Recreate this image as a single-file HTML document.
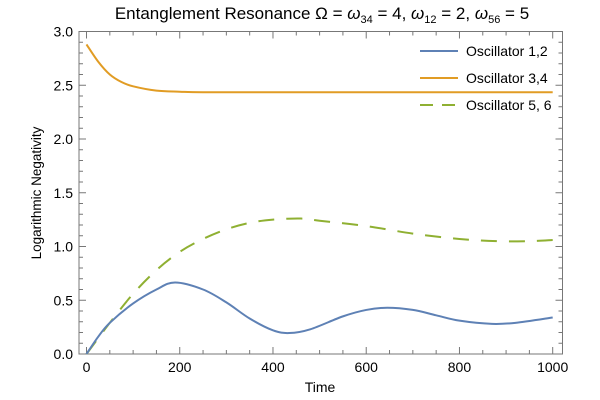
<!DOCTYPE html>
<html><head><meta charset="utf-8"><style>
body{margin:0;background:#fff;}
svg{display:block;font-family:"Liberation Sans",sans-serif;}
</style></head><body>
<svg id="chart" width="600" height="400" viewBox="0 0 600 400">
<text x="322" y="19" font-size="17" text-anchor="middle">Entanglement Resonance Ω = <tspan font-style="italic">ω</tspan><tspan font-size="11" dy="4">34</tspan><tspan dy="-4"> = 4, </tspan><tspan font-style="italic">ω</tspan><tspan font-size="11" dy="4">12</tspan><tspan dy="-4"> = 2, </tspan><tspan font-style="italic">ω</tspan><tspan font-size="11" dy="4">56</tspan><tspan dy="-4"> = 5</tspan></text>
<rect x="79" y="31.5" width="483.5" height="322.5" fill="none" stroke="#777" stroke-width="1"/>
<g id="ticks"></g>
<g id="series"></g>
<text x="320" y="392" font-size="14" text-anchor="middle">Time</text>
<text transform="translate(41,193) rotate(-90)" font-size="13.5" text-anchor="middle">Logarithmic Negativity</text>
<g>
<line x1="420" y1="51" x2="458" y2="51" stroke="#5e81b5" stroke-width="2"/>
<text x="466" y="56" font-size="14">Oscillator 1,2</text>
<line x1="420" y1="78" x2="458" y2="78" stroke="#e19c24" stroke-width="2"/>
<text x="466" y="83" font-size="14">Oscillator 3,4</text>
<line x1="420" y1="105" x2="458" y2="105" stroke="#8fb032" stroke-width="2" stroke-dasharray="13,9"/>
<text x="466" y="110" font-size="14">Oscillator 5, 6</text>
</g>
</svg>
<script>
const times1=[0,25,50,100,150,190,250,300,350,400,435,480,550,600,645,700,750,800,870,920,1000];
const osc12=[0,0.16,0.29,0.47,0.6,0.665,0.6,0.48,0.33,0.22,0.195,0.23,0.35,0.41,0.43,0.41,0.36,0.31,0.28,0.29,0.34];
const times2=[0,25,50,75,100,150,200,250,400,1000];
const osc34=[2.88,2.72,2.6,2.53,2.49,2.45,2.44,2.435,2.435,2.435];
const times3=[0,50,100,150,200,250,300,350,400,460,500,600,700,800,880,950,1000];
const osc56=[0,0.29,0.56,0.78,0.95,1.07,1.16,1.22,1.25,1.26,1.24,1.19,1.12,1.07,1.05,1.05,1.06];
const xTicks=[0,200,400,600,800,1000];
const yTicks=[0,0.5,1,1.5,2,2.5,3];
const X=t=>86.5+t*(552.7-86.5)/1000;
const Y=v=>354-v*(354-31.5)/3;
const NS='http://www.w3.org/2000/svg';
const tg=document.getElementById('ticks');
function mk(tag,attrs,parent){const e=document.createElementNS(NS,tag);for(const k in attrs)e.setAttribute(k,attrs[k]);parent.appendChild(e);return e;}
for(let t=0;t<=1000;t+=50){const maj=t%200===0;const l=mk('line',{x1:X(t),x2:X(t),y1:354,y2:354-(maj?7:4),stroke:'#777'},tg);


const l2=mk('line',{x1:X(t),x2:X(t),y1:31.5,y2:31.5+(maj?7:4),stroke:'#777'},tg);

}
xTicks.forEach(t=>{const e=mk('text',{x:X(t),y:372,'font-size':14,'text-anchor':'middle'},tg);e.textContent=t;

});
for(let v=0;v<=3.001;v+=0.1){const maj=Math.abs(v*2-Math.round(v*2))<1e-6;const l=mk('line',{x1:79,x2:79+(maj?7:4),y1:Y(v),y2:Y(v),stroke:'#777'},tg);


const l2=mk('line',{x1:562.5,x2:562.5-(maj?7:4),y1:Y(v),y2:Y(v),stroke:'#777'},tg);

}
yTicks.forEach(v=>{const e=mk('text',{x:73,y:Y(v)+5,'font-size':14,'text-anchor':'end'},tg);e.textContent=v.toFixed(1);

});
function pathD(ts,vs){const p=ts.map((t,i)=>[X(t),Y(vs[i])]);let d='M'+p[0][0]+','+p[0][1];
for(let i=0;i<p.length-1;i++){const p0=p[i-1]||p[i],p1=p[i],p2=p[i+1],p3=p[i+2]||p2;
d+=' C'+(p1[0]+(p2[0]-p0[0])/6)+','+(p1[1]+(p2[1]-p0[1])/6)+' '+(p2[0]-(p3[0]-p1[0])/6)+','+(p2[1]-(p3[1]-p1[1])/6)+' '+p2[0]+','+p2[1];}return d;}
const sg=document.getElementById('series');
const a=mk('path',{d:pathD(times2,osc34),fill:'none',stroke:'#e19c24','stroke-width':2},sg);


const b=mk('path',{d:pathD(times3,osc56),fill:'none',stroke:'#8fb032','stroke-width':2,'stroke-dasharray':'16,12'},sg);


const c=mk('path',{d:pathD(times1,osc12),fill:'none',stroke:'#5e81b5','stroke-width':2},sg);


</script>
</body></html>
